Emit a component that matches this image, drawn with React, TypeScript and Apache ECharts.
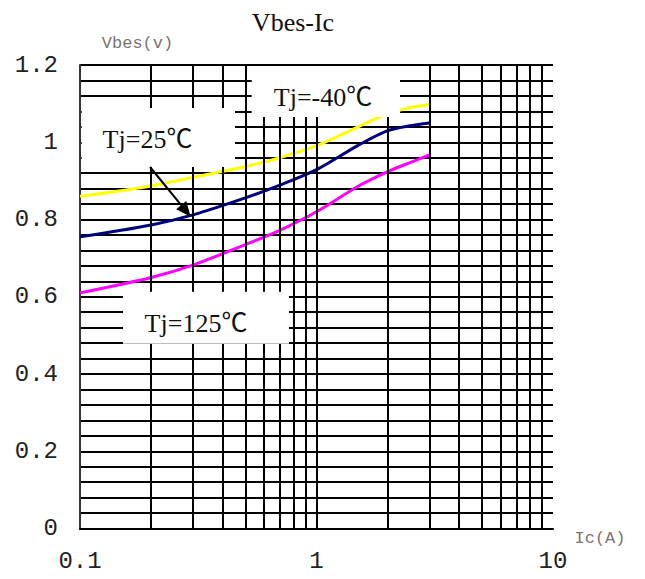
import React, { useEffect, useRef } from "react";
import * as echarts from "echarts";

// ---- data ----
const icValues = [0.1, 0.2, 0.3, 0.5, 0.7, 1, 1.5, 2, 2.5, 3];
const vbesM40 = [0.86, 0.887, 0.909, 0.937, 0.96, 0.991, 1.04, 1.074, 1.09, 1.098];
const vbes25 = [0.755, 0.786, 0.812, 0.856, 0.889, 0.929, 0.992, 1.03, 1.043, 1.05];
const vbes125 = [0.61, 0.65, 0.682, 0.735, 0.772, 0.82, 0.886, 0.924, 0.948, 0.967];

const xMinorGrid = [0.2, 0.3, 0.4, 0.5, 0.6, 0.7, 0.8, 0.9, 1, 2, 3, 4, 5, 6, 7, 8, 9];
const xTickLabels: Record<string, string> = { "0.1": "0.1", "1": "1", "10": "10" };
const yTickLabels: Record<string, string> = {
  "0": "0", "0.2": "0.2", "0.4": "0.4", "0.6": "0.6", "0.8": "0.8", "1": "1", "1.2": "1.2",
};

const chartTitle = "Vbes-Ic";
const yName = "Vbes(v)";
const xName = "Ic(A)";
const labelM40 = "Tj=-40℃";
const label25 = "Tj=25℃";
const label125 = "Tj=125℃";

const serif = '"Liberation Serif", "Noto Sans CJK SC", serif';
const mono = '"Liberation Mono", "DejaVu Sans Mono", monospace';

function pair(xs: number[], ys: number[]) {
  return xs.map((x, i) => [x, ys[i]]);
}

function txt(text: string, x: number, y: number, size: number, family: string, color: string) {
  return {
    type: "text",
    x,
    y,
    z: 110,
    silent: true,
    style: {
      text,
      fill: color,
      fontSize: size,
      fontFamily: family,
      align: "center",
      verticalAlign: "middle",
      textAlign: "center",
      textVerticalAlign: "middle",
    },
  };
}

function box(x: number, y: number, w: number, h: number) {
  return {
    type: "rect",
    z: 100,
    silent: true,
    shape: { x, y, width: w, height: h },
    style: { fill: "#fff", stroke: null },
  };
}

export default function App() {
  const ref = useRef<HTMLDivElement>(null);
  useEffect(() => {
    if (!ref.current) return;
    const chart = echarts.init(ref.current, null, { renderer: "svg" });

    const tip = [190.7, 216.7];
    const start = [150, 167];
    const dx = tip[0] - start[0];
    const dy = tip[1] - start[1];
    const len = Math.sqrt(dx * dx + dy * dy);
    const ux = dx / len, uy = dy / len;
    const headL = 15, headW = 6.5;
    const bx = tip[0] - ux * headL, by = tip[1] - uy * headL;

    const curve = (name: string, ys: number[], color: string) => ({
      name,
      type: "line",
      data: pair(icValues, ys),
      smooth: 0.3,
      showSymbol: false,
      symbol: "none",
      z: 3,
      silent: true,
      lineStyle: { color, width: 3 },
    });

    chart.setOption({
      animation: false,
      backgroundColor: "#fff",
      grid: { left: 80, top: 65, width: 473, height: 463.5, containLabel: false },
      xAxis: {
        type: "log",
        logBase: 10,
        min: 0.1,
        max: 10,
        axisLine: { show: true, onZero: false, lineStyle: { color: "#000", width: 2 } },
        axisTick: { show: false },
        splitLine: { show: false },
        axisLabel: {
          margin: 21,
          fontSize: 24,
          fontFamily: mono,
          color: "#222",
          formatter: (v: number) => xTickLabels[String(Number(v.toPrecision(3)))] ?? "",
        },
      },
      yAxis: {
        type: "value",
        min: 0,
        max: 1.2,
        interval: 0.2,
        axisLine: { show: true, lineStyle: { color: "#333", width: 2 } },
        axisTick: { show: false },
        splitLine: { show: true, lineStyle: { color: "#000", width: 2 } },
        minorTick: { show: false, splitNumber: 5 },
        minorSplitLine: { show: true, lineStyle: { color: "#000", width: 2 } },
        axisLabel: {
          margin: 22,
          fontSize: 24,
          fontFamily: mono,
          color: "#222",
          formatter: (v: number) => yTickLabels[String(Number(v.toFixed(2)))] ?? "",
        },
      },
      series: [
        {
          name: "grid",
          type: "line",
          data: [],
          z: 1,
          silent: true,
          markLine: {
            silent: true,
            symbol: ["none", "none"],
            label: { show: false },
            emphasis: { disabled: true },
            lineStyle: { color: "#000", width: 2, type: "solid" },
            data: xMinorGrid.map((v) => ({ xAxis: v })),
          },
        },
        curve("Tj=-40℃", vbesM40, "#ffff00"),
        curve("Tj=25℃", vbes25, "#000080"),
        curve("Tj=125℃", vbes125, "#ff00ff"),
      ],
      graphic: [
        box(251.7, 66, 148.3, 51),
        box(81.7, 108, 153.3, 59),
        box(123, 291.7, 166, 52),
        txt(labelM40, 323, 97, 26, serif, "#111"),
        txt(label25, 147.5, 139, 26, serif, "#111"),
        txt(label125, 196, 323, 26, serif, "#111"),
        {
          type: "line",
          z: 120,
          silent: true,
          shape: { x1: start[0], y1: start[1], x2: bx, y2: by },
          style: { stroke: "#000", lineWidth: 2 },
        },
        {
          type: "polygon",
          z: 120,
          silent: true,
          shape: {
            points: [
              [tip[0], tip[1]],
              [bx - uy * headW, by + ux * headW],
              [bx + uy * headW, by - ux * headW],
            ],
          },
          style: { fill: "#000" },
        },
        txt(chartTitle, 293, 22, 26, serif, "#111"),
        txt(yName, 137.5, 43, 17, mono, "#7a7470"),
        txt(xName, 600, 538, 17, mono, "#7a7470"),
      ],
    });
    return () => chart.dispose();
  }, []);
  return (
    <div
      ref={ref}
      style={{ position: "absolute", left: 0, top: 0, width: 645, height: 579 }}
    />
  );
}
